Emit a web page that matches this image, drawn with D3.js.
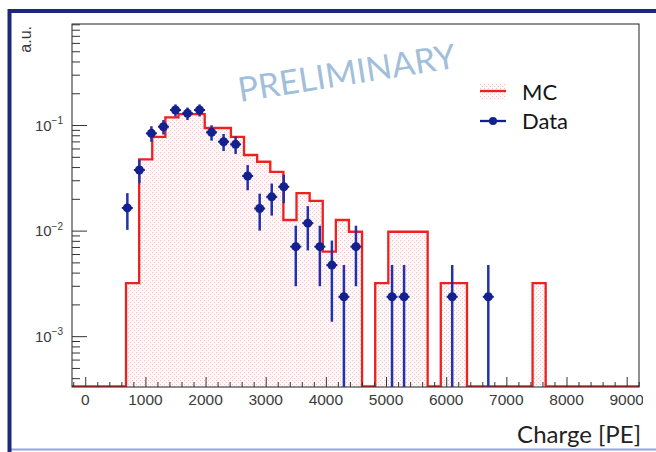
<!DOCTYPE html>
<html>
<head>
<meta charset="utf-8">
<script src="https://cdn.jsdelivr.net/npm/d3@7/dist/d3.min.js"></script>
<style>
  html, body { margin: 0; padding: 0; background: #fff; }
  svg { display: block; }
</style>
</head>
<body>
<svg id="chart" width="656" height="452"></svg>
<script>
// ---------------- data ----------------
const xTickValues = [0, 1000, 2000, 3000, 4000, 5000, 6000, 7000, 8000, 9000];
const xTickLabels = ["0", "1000", "2000", "3000", "4000", "5000", "6000", "7000", "8000", "9000"];
const yTickValues = [0.1, 0.01, 0.001];
const yTickExponents = ["\u22121", "\u22122", "\u22123"];

// MC histogram (bin edges in PE, bin contents in a.u.)
const mcBinEdges = [678, 896, 1114, 1332, 1550, 1768, 1986, 2204, 2422, 2640, 2858,
  3076, 3294, 3512, 3730, 3948, 4166, 4384, 4602, 4820, 5038, 5256, 5474, 5692,
  5910, 6128, 6346, 6564, 6782, 7000, 7218, 7436, 7654];
const mcValues = [0.00318, 0.0473, 0.0774, 0.118, 0.127, 0.127, 0.0937, 0.0937,
  0.0774, 0.052, 0.0449, 0.036, 0.0126, 0.0226, 0.0191, 0.00632, 0.0126, 0.00975,
  0, 0.00318, 0.00975, 0.00975, 0.00975, 0, 0.00318, 0.00318, 0, 0, 0, 0, 0, 0.00318];

// Data points
const dataX = [700, 900, 1100, 1300, 1500, 1700, 1900, 2100, 2300, 2500, 2700, 2900,
  3100, 3300, 3500, 3700, 3900, 4100, 4300, 4500, 5100, 5300, 6100, 6700];
const dataY = [0.0164, 0.0375, 0.0834, 0.0964, 0.1387, 0.129, 0.1387, 0.0853, 0.0695,
  0.0656, 0.0329, 0.0162, 0.0209, 0.026, 0.00705, 0.01177, 0.00705, 0.00471, 0.00236,
  0.00705, 0.00236, 0.00236, 0.00236, 0.00236];
const dataErr = [0.00624, 0.00944, 0.0140, 0.0151, 0.0181, 0.01745, 0.0181, 0.0142,
  0.0128, 0.01244, 0.0088, 0.0062, 0.00703, 0.00783, 0.00408, 0.00528, 0.00408,
  0.00334, 0.00236, 0.00408, 0.00236, 0.00236, 0.00236, 0.00236];

const legendLabels = ["MC", "Data"];
const xTitle = "Charge [PE]";
const yTitle = "a.u.";
const watermark = "PRELIMINARY";

// ---------------- layout ----------------
const W = 656, H = 452;
const plot = { left: 72, right: 639, top: 24, bottom: 387 };
const red = "#ee2020", blue = "#13208e", blueBar = "#2232aa";

const svg = d3.select("#chart");

const x = d3.scaleLinear().domain([-220, 9205]).range([plot.left, plot.right]);
const y = d3.scaleLog().domain([3.3e-4, 0.906]).range([plot.bottom, plot.top]).clamp(true);
const yv = v => (v > 0 ? y(v) : plot.bottom);

// pattern for MC fill
const defs = svg.append("defs");
const pat = defs.append("pattern").attr("id", "dots").attr("patternUnits", "userSpaceOnUse")
  .attr("width", 4).attr("height", 4);
pat.append("rect").attr("width", 4).attr("height", 4).attr("fill", "#fef7f7");
pat.append("rect").attr("x", 0).attr("y", 0).attr("width", 1).attr("height", 1).attr("fill", "#f2c4c8");
pat.append("rect").attr("x", 2).attr("y", 2).attr("width", 1).attr("height", 1).attr("fill", "#f2c4c8");
defs.append("clipPath").attr("id", "plotclip").append("rect")
  .attr("x", plot.left).attr("y", plot.top - 2)
  .attr("width", plot.right - plot.left).attr("height", plot.bottom - plot.top + 2);

// outer frame
svg.append("rect").attr("width", W).attr("height", H).attr("fill", "#fff");
svg.append("line").attr("x1", 9).attr("x2", W).attr("y1", 449.5).attr("y2", 449.5)
  .attr("stroke", "#93a3e6").attr("stroke-width", 2);
svg.append("path").attr("d", `M9.5,${H} L9.5,11 L${W},11`).attr("fill", "none")
  .attr("stroke", "#1d2878").attr("stroke-width", 4);

// ---------------- MC histogram ----------------
const mcPts = [[x.domain()[0], 0], [mcBinEdges[0], 0]];
mcValues.forEach((v, i) => { mcPts.push([mcBinEdges[i], v]); mcPts.push([mcBinEdges[i + 1], v]); });
mcPts.push([mcBinEdges[mcBinEdges.length - 1], 0]);
mcPts.push([x.domain()[1], 0]);

const gPlot = svg.append("g").attr("clip-path", "url(#plotclip)");
const area = d3.area().x(d => x(d[0])).y0(plot.bottom).y1(d => yv(d[1]));
gPlot.append("path").datum(mcPts).attr("d", area).attr("fill", "url(#dots)");
const line = d3.line().x(d => x(d[0])).y(d => Math.min(yv(d[1]), plot.bottom - 0.5));
gPlot.append("path").datum(mcPts).attr("d", line).attr("fill", "none")
  .attr("stroke", red).attr("stroke-width", 2.3);

// ---------------- axes / frame ----------------
svg.append("rect").attr("x", plot.left).attr("y", plot.top)
  .attr("width", plot.right - plot.left).attr("height", plot.bottom - plot.top)
  .attr("fill", "none").attr("stroke", "#222").attr("stroke-width", 1);

// x axis ticks (inside, pointing up)
const xMinor = d3.range(-200, 9201, 200).filter(v => v % 1000 !== 0);
const xAxisMinor = d3.axisTop(x).tickValues(xMinor).tickSize(5).tickSizeOuter(0).tickFormat("");
const xAxisMajor = d3.axisTop(x).tickValues(xTickValues).tickSize(10).tickSizeOuter(0).tickFormat("");
[xAxisMinor, xAxisMajor].forEach(ax => {
  const g = svg.append("g").attr("transform", `translate(0,${plot.bottom})`).call(ax);
  g.select(".domain").remove();
  g.selectAll(".tick line").attr("stroke", "#333");
});
xTickValues.forEach((v, i) => {
  svg.append("text").attr("x", x(v)).attr("y", 405).attr("text-anchor", "middle")
    .attr("font-family", "Liberation Sans, Arial, sans-serif").attr("font-size", 15.5)
    .attr("fill", "#3a3a3a").text(xTickLabels[i]);
});
// clip of the right-most label, as in the reference
svg.append("rect").attr("x", 643).attr("y", 389).attr("width", 13).attr("height", 20).attr("fill", "#fff");

// y axis ticks (inside, pointing right)
const yMinor = y.ticks().filter(v => !yTickValues.some(t => Math.abs(t - v) / t < 1e-6));
const yAxisMinor = d3.axisRight(y).tickValues(yMinor).tickSize(8).tickSizeOuter(0).tickFormat("");
const yAxisMajor = d3.axisRight(y).tickValues(yTickValues).tickSize(15).tickSizeOuter(0).tickFormat("");
[yAxisMinor, yAxisMajor].forEach(ax => {
  const g = svg.append("g").attr("transform", `translate(${plot.left},0)`).call(ax);
  g.select(".domain").remove();
  g.selectAll(".tick line").attr("stroke", "#333");
});
yTickValues.forEach((v, i) => {
  const t = svg.append("text").attr("x", 63).attr("y", y(v) + 5.5).attr("text-anchor", "end")
    .attr("font-family", "Liberation Sans, Arial, sans-serif").attr("font-size", 15)
    .attr("fill", "#3a3a3a");
  t.append("tspan").text("10");
  t.append("tspan").attr("dy", -6.5).attr("font-size", 10).text(yTickExponents[i]);
});

// axis titles
svg.append("text").attr("transform", "translate(31,26) rotate(-90)").attr("text-anchor", "end")
  .attr("font-family", "Liberation Sans, Arial, sans-serif").attr("font-size", 16)
  .attr("fill", "#3a3a3a").text(yTitle);
svg.append("text").attr("x", 641).attr("y", 443).attr("text-anchor", "end")
  .attr("font-family", "Lato, 'Open Sans', sans-serif").attr("font-size", 24)
  .attr("fill", "#222").text(xTitle);

// ---------------- data points ----------------
const gData = svg.append("g").attr("clip-path", "url(#plotclip)");
dataX.forEach((xv, i) => {
  const cx = x(xv), cy = yv(dataY[i]);
  gData.append("line").attr("x1", cx).attr("x2", cx)
    .attr("y1", yv(dataY[i] + dataErr[i])).attr("y2", yv(dataY[i] - dataErr[i]))
    .attr("stroke", blueBar).attr("stroke-width", 2.5);
  gData.append("line").attr("x1", cx - 5.5).attr("x2", cx + 5.5).attr("y1", cy).attr("y2", cy)
    .attr("stroke", blue).attr("stroke-width", 2);
  gData.append("circle").attr("cx", cx).attr("cy", cy).attr("r", 4.5).attr("fill", blue);
});

// ---------------- legend ----------------
svg.append("rect").attr("x", 480).attr("y", 83).attr("width", 26).attr("height", 17).attr("fill", "url(#dots)");
svg.append("line").attr("x1", 480).attr("x2", 506).attr("y1", 91).attr("y2", 91)
  .attr("stroke", red).attr("stroke-width", 2.3);
svg.append("line").attr("x1", 480).attr("x2", 506).attr("y1", 121).attr("y2", 121)
  .attr("stroke", blue).attr("stroke-width", 2.3);
svg.append("circle").attr("cx", 493).attr("cy", 121).attr("r", 4).attr("fill", blue);
legendLabels.forEach((lab, i) => {
  svg.append("text").attr("x", 522).attr("y", i === 0 ? 100 : 129)
    .attr("font-family", "Lato, 'Open Sans', sans-serif").attr("font-size", 22)
    .attr("fill", "#151515").text(lab);
});

// ---------------- watermark ----------------
svg.append("text").attr("transform", "translate(240,102) rotate(-9)")
  .attr("font-family", "Lato, 'Open Sans', sans-serif").attr("font-size", 34)
  .attr("fill", "#a2bfda").text(watermark);
</script>
</body>
</html>
